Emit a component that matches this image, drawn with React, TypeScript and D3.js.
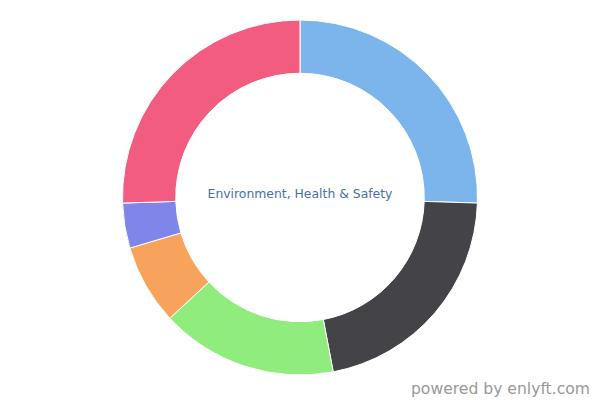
import * as React from 'react';
import { pie, arc, PieArcDatum } from 'd3';

// segment data, clockwise from 12 o'clock
const categories = ['A', 'B', 'C', 'D', 'E', 'F'];
const values = [25.5, 21.5, 16.1, 7.3, 4.1, 25.5];
const colors = ['#7cb5ec', '#434348', '#90ed7d', '#f7a35c', '#8085e9', '#f15c80'];
const title = 'Environment, Health & Safety';
const credit = 'powered by enlyft.com';

const W = 600;
const H = 400;
const cx = 300;
const cy = 197.5;
const outerR = 177.5;
const innerR = outerR * 0.7;

export default function App() {
    const pieGen = pie<number>().sort(null).value(d => d);
    const arcs = pieGen(values);
    const arcGen = arc<PieArcDatum<number>>().innerRadius(innerR).outerRadius(outerR);

    return (
        <svg width={W} height={H} style={{ position: 'absolute', left: 0, top: 0, fontFamily: 'DejaVu Sans, sans-serif' }}>
            <rect width={W} height={H} fill="#ffffff" />
            <g transform={`translate(${cx},${cy})`}>
                {arcs.map((a, i) => (
                    <path key={categories[i]} d={arcGen(a) || ''} fill={colors[i]} stroke="#ffffff" strokeWidth={1} strokeLinejoin="round" />
                ))}
            </g>
            <text x={cx} y={197.5} textAnchor="middle" fontSize={12.4} fill="#4a6fa5">
                {title}
            </text>
            <text x={590} y={394} textAnchor="end" fontSize={15.6} fill="#999999">
                {credit}
            </text>
        </svg>
    );
}
